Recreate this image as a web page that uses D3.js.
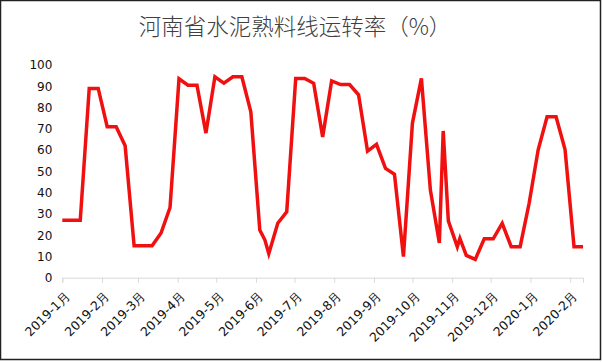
<!DOCTYPE html>
<html>
<head>
<meta charset="utf-8">
<script src="https://cdn.jsdelivr.net/npm/d3@7"></script>
<style>
  body { margin: 0; background: #fff; }
  svg { display: block; }
  .axis text { font-family: "DejaVu Sans", sans-serif; fill: #111; }
</style>
</head>
<body>
<div id="chart-area"></div>
<script>
const W = 604, H = 362

// weekly readings (a few extra mid-week points)
const dates = [
  "2019-01-01","2019-01-08","2019-01-15","2019-01-22","2019-01-29","2019-02-05","2019-02-12",
  "2019-02-19","2019-02-26","2019-03-05","2019-03-12","2019-03-19","2019-03-26","2019-04-02",
  "2019-04-09","2019-04-16","2019-04-23","2019-04-30","2019-05-07","2019-05-14","2019-05-21",
  "2019-05-28","2019-06-04","2019-06-08","2019-06-11","2019-06-18","2019-06-25","2019-07-02",
  "2019-07-09","2019-07-16","2019-07-23","2019-07-30","2019-08-06","2019-08-13","2019-08-20",
  "2019-08-27","2019-09-03","2019-09-10","2019-09-17","2019-09-24","2019-10-01","2019-10-08",
  "2019-10-15","2019-10-22","2019-10-25","2019-10-29","2019-11-05","2019-11-07","2019-11-12",
  "2019-11-19","2019-11-26","2019-12-03","2019-12-10","2019-12-17","2019-12-24","2019-12-31",
  "2020-01-07","2020-01-14","2020-01-21","2020-01-28","2020-02-04","2020-02-11"
]
const values = [
  27, 27, 27, 89, 89, 71, 71,
  62, 15, 15, 15, 21, 33, 93.5,
  90.5, 90.5, 68, 94.5, 91.5, 94.5, 94.5,
  78, 22.4, 17.7, 11.3, 25.6, 31, 93.7,
  93.7, 91.4, 66.2, 92.5, 90.8, 90.8, 86,
  59.5, 62.7, 51.4, 48.6, 9.9, 72.7, 93.7,
  41.2, 16.3, 69, 26.7, 14.5, 18.5, 10.5,
  8.6, 18.3, 18.3, 25.6, 14.6, 14.6, 35,
  60, 75.7, 75.7, 60.3, 14.6, 14.6
]

const monthTicks = [
  "2019-01-01","2019-02-01","2019-03-01","2019-04-01","2019-05-01","2019-06-01","2019-07-01",
  "2019-08-01","2019-09-01","2019-10-01","2019-11-01","2019-12-01","2020-01-01","2020-02-01"
]
const monthLabels = [
  "2019-1月","2019-2月","2019-3月","2019-4月","2019-5月","2019-6月","2019-7月",
  "2019-8月","2019-9月","2019-10月","2019-11月","2019-12月","2020-1月","2020-2月"
]
const yTicks = [0, 10, 20, 30, 40, 50, 60, 70, 80, 90, 100]

const parseDate = d3.timeParse("%Y-%m-%d")
const data = dates.map((d, i) => ({ date: parseDate(d), value: values[i] }))
const tickDates = monthTicks.map(parseDate)

const svg = d3.select("#chart-area").append("svg")
  .attr("width", W)
  .attr("height", H)

// outer frame
svg.append("rect")
  .attr("x", 0.5).attr("y", 0.5)
  .attr("width", 600).attr("height", 359)
  .attr("fill", "#fff")
  .attr("stroke", "#222")
  .attr("stroke-width", 1.5)

// title
svg.append("text")
  .attr("x", 295)
  .attr("y", 35)
  .attr("text-anchor", "middle")
  .attr("font-family", "'Noto Sans CJK SC', sans-serif")
  .attr("font-weight", 300)
  .attr("font-size", 22.5)
  .attr("fill", "#404040")
  .text("河南省水泥熟料线运转率（%）")

// scales
const x = d3.scaleTime()
  .domain(d3.extent(data, d => d.date))
  .range([62.3, 583])
const y = d3.scaleLinear()
  .domain([0, 100])
  .range([277.7, 65])

// x axis
const xAxis = svg.append("g")
  .attr("class", "axis")
  .attr("transform", `translate(0, ${y(0)})`)
  .call(d3.axisBottom(x)
    .tickValues(tickDates)
    .tickFormat((d, i) => monthLabels[i])
    .tickSizeOuter(0)
    .tickSize(5))
xAxis.select(".domain").attr("stroke", "#d9d9d9")
xAxis.selectAll(".tick line").attr("stroke", "#d9d9d9")
xAxis.selectAll(".tick text")
  .style("font-size", "12.5px")
  .attr("text-anchor", "end")
  .attr("dx", 0)
  .attr("dy", 0)
  .attr("y", 0)
  .attr("transform", "translate(8, 19) rotate(-45)")

// y axis
const yAxis = svg.append("g")
  .attr("class", "axis")
  .attr("transform", `translate(${x.range()[0]}, 0)`)
  .call(d3.axisLeft(y)
    .tickValues(yTicks)
    .tickSize(0)
    .tickPadding(10))
yAxis.select(".domain").remove()
yAxis.selectAll(".tick text").style("font-size", "12px")

// line
const line = d3.line()
  .x(d => x(d.date))
  .y(d => y(d.value))

svg.append("path")
  .attr("fill", "none")
  .attr("stroke", "#f01010")
  .attr("stroke-width", 3.5)
  .attr("stroke-linejoin", "miter")
  .attr("d", line(data))
</script>
</body>
</html>
